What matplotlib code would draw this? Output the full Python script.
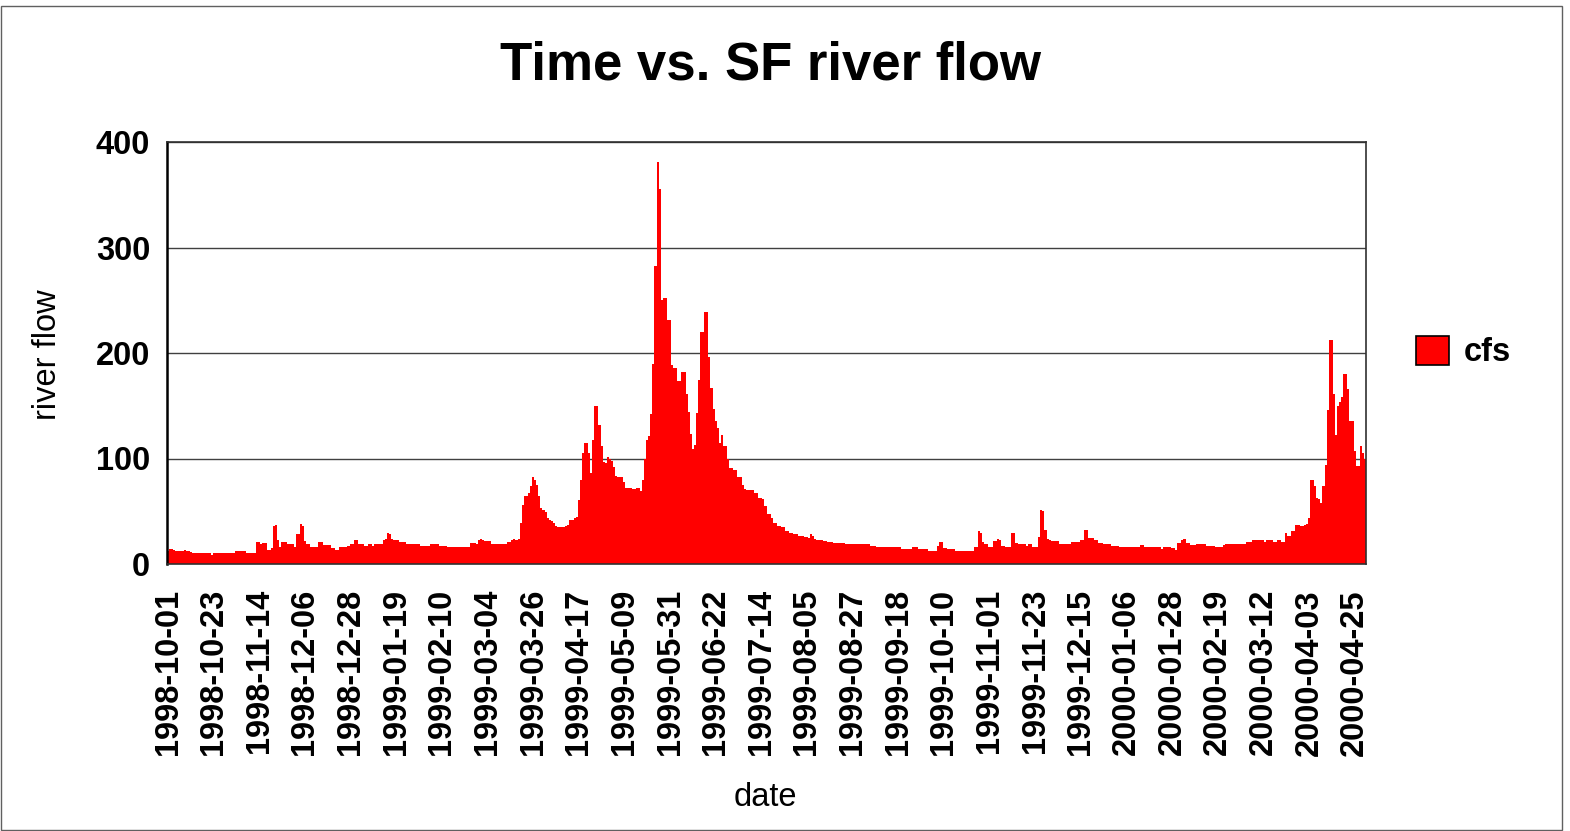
import numpy as np
import pandas as pd
import matplotlib
matplotlib.use("Agg")
import matplotlib.pyplot as plt
from matplotlib.patches import Patch, Rectangle

plt.rcParams['font.family'] = ['Liberation Sans', 'DejaVu Sans']

# daily mean flow (cfs), starting 1998-10-01
start_date = '1998-10-01'
flow_oct_dec_1998 = [
    12, 14, 14, 13, 12, 12, 12, 12, 13, 12,
    12, 11, 10, 10, 10, 10, 10, 10, 10, 10,
    10, 9, 10, 10, 10, 10, 10, 10, 10, 10,
    10, 10, 10, 12, 12, 12, 12, 12, 10, 10,
    10, 10, 10, 21, 21, 19, 20, 20, 13, 13,
    15, 36, 37, 23, 16, 21, 21, 21, 19, 19,
    19, 16, 28, 28, 38, 36, 22, 19, 19, 16,
    16, 16, 16, 21, 21, 18, 18, 18, 18, 15,
    15, 13, 13, 16, 16, 16, 16, 17, 19, 19,
    23, 23,
]
flow_jan_sep_1999 = [
    19, 19, 19, 17, 17, 19, 19, 17,
    19, 19, 19, 19, 23, 24, 29, 28, 24, 23,
    23, 23, 21, 21, 21, 19, 19, 19, 19, 19,
    19, 19, 17, 17, 17, 17, 17, 19, 19, 19,
    19, 17, 17, 17, 17, 16, 16, 16, 16, 16,
    16, 16, 16, 16, 16, 16, 20, 20, 20, 19,
    23, 24, 23, 22, 22, 22, 19, 19, 19, 19,
    19, 19, 19, 19, 21, 21, 23, 24, 23, 24,
    39, 56, 64, 64, 67, 74, 82, 80, 75, 64,
    53, 51, 49, 44, 42, 41, 39, 36, 35, 35,
    35, 35, 36, 37, 42, 42, 44, 45, 61, 80,
    105, 115, 115, 105, 86, 118, 150, 150, 132, 112,
    97, 96, 101, 100, 98, 92, 83, 82, 82, 82,
    78, 72, 72, 72, 71, 71, 72, 72, 69, 80,
    100, 118, 121, 142, 190, 282, 381, 355, 250, 252,
    252, 231, 231, 189, 186, 186, 173, 173, 182, 182,
    161, 144, 123, 109, 113, 143, 174, 220, 220, 239,
    239, 196, 167, 147, 136, 129, 115, 122, 112, 112,
    100, 91, 91, 89, 89, 82, 82, 75, 71, 70,
    70, 70, 70, 67, 67, 63, 63, 62, 55, 47,
    47, 44, 39, 39, 36, 36, 35, 35, 31, 31,
    29, 29, 28, 28, 27, 27, 27, 26, 26, 25,
    28, 27, 24, 23, 23, 23, 22, 22, 21, 21,
    21, 20, 20, 20, 20, 20, 20, 19, 19, 19,
    19, 19, 19, 19, 19, 19, 19, 19, 19, 17,
    17, 17, 16, 16, 16, 16, 16, 16, 16, 16,
    16, 16, 16, 16, 14, 14, 14, 14, 14, 16,
    16, 16, 14, 14, 14,
]
flow_oct_1999_apr_2000 = [
    14, 14, 12, 12, 12,
    12, 17, 21, 21, 15, 15, 14, 14, 14, 14,
    12, 12, 12, 12, 12, 12, 12, 12, 12, 16,
    16, 31, 29, 21, 19, 19, 16, 16, 22, 22,
    24, 23, 17, 17, 16, 16, 16, 29, 29, 20,
    19, 19, 19, 19, 17, 19, 19, 16, 16, 16,
    26, 51, 50, 32, 24, 23, 22, 22, 22, 22,
    19, 19, 19, 19, 19, 19, 21, 21, 21, 21,
    23, 23, 32, 32, 25, 25, 25, 23, 23, 20,
    20, 19, 19, 19, 19, 17, 17, 17, 17, 16,
    16, 16, 16, 16, 16, 16, 16, 16, 16, 18,
    18, 16, 16, 16, 16, 16, 16, 16, 16, 14,
    16, 16, 16, 16, 15, 15, 13, 20, 20, 23,
    24, 20, 20, 18, 18, 18, 19, 19, 19, 19,
    19, 17, 17, 17, 17, 16, 16, 16, 16, 18,
    19, 19, 19, 19, 19, 19, 19, 19, 19, 19,
    21, 21, 21, 23, 23, 23, 23, 23, 23, 21,
    23, 23, 23, 21, 21, 23, 23, 21, 21, 29,
    27, 27, 31, 31, 37, 37, 36, 36, 37, 38,
    44, 80, 80, 74, 63, 62, 58, 74, 94, 146,
    212, 212, 161, 122, 150, 154, 158, 180, 180, 166,
    136, 136, 107, 93, 93, 112, 105, 100,
]
flow = np.array(flow_oct_dec_1998 + flow_jan_sep_1999 + flow_oct_1999_apr_2000, dtype=float)
dates = pd.date_range(start_date, periods=len(flow), freq='D')
tick_step = 22  # one label every 22 days, as in the original sheet
y_ticks = [0, 100, 200, 300, 400]

W, H = 1570, 831
fig = plt.figure(figsize=(W / 100, H / 100), dpi=100)
ax = fig.add_axes([167 / W, 1 - 564 / H, (1366 - 167) / W, (564 - 142) / H])

x = np.arange(len(flow))
ax.bar(x, flow, width=1.0, color='#ff0000', linewidth=0, antialiased=False, zorder=2)

ax.set_xlim(-0.5, len(flow) - 0.5)
ax.set_ylim(0, 400)
ax.set_yticks(y_ticks)
ax.set_yticklabels([str(v) for v in y_ticks], fontsize=23.5, fontweight='bold')
tick_pos = x[::tick_step]
ax.set_xticks(tick_pos)
ax.set_xticklabels(dates[::tick_step].strftime('%Y-%m-%d'), rotation=90,
                   fontsize=23.5, fontweight='bold')
ax.tick_params(axis='x', length=0, pad=18)
ax.tick_params(axis='y', length=0, pad=12)
ax.yaxis.grid(True, color='#404040', linewidth=1.0, zorder=1)
ax.set_axisbelow(True)
for s in ax.spines.values():
    s.set_color('#303030')
    s.set_linewidth(1.2)
ax.spines['left'].set_color('black')
ax.spines['left'].set_linewidth(1.8)

fig.text(770 / W, 1 - 65 / H, 'Time vs. SF river flow', ha='center', va='center',
         fontsize=38, fontweight='bold')
fig.text(47 / W, 1 - 355 / H, 'river flow', rotation=90, ha='center', va='center',
         fontsize=23.5)
fig.text(765 / W, 1 - 797 / H, 'date', ha='center', va='center', fontsize=23.5)

fig.legend(handles=[Patch(facecolor='#ff0000', edgecolor='black', linewidth=1.2)],
           labels=['cfs'], loc='center left', bbox_to_anchor=(1416 / W, 1 - 352 / H),
           frameon=False, prop={'size': 23.5, 'weight': 'bold'},
           handlelength=1.0, handleheight=1.0, handletextpad=0.45,
           borderpad=0, borderaxespad=0)

# thin chart-area border
fig.patches.append(Rectangle((1 / W, 1 / H), 1561 / W, (H - 7) / H, transform=fig.transFigure,
                             fill=False, edgecolor='#606060', linewidth=1.0))

fig.savefig('out.png', dpi=100)
